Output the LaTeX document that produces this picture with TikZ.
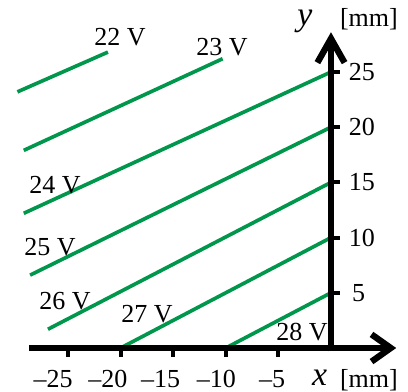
\documentclass[tikz,border=0pt]{standalone}
\usepackage{fontspec}
\setmainfont{Liberation Serif}
\usetikzlibrary{arrows.meta}
\definecolor{eqgreen}{RGB}{0,150,75}

\begin{document}
\begin{tikzpicture}[x=0.263cm,y=0.276cm,every node/.style={inner sep=0pt,outer sep=0pt,font=\fontsize{18.5}{20}\selectfont}]
	\tikzstyle{axis}=[line width=4.5pt]
	\tikzstyle{tick}=[line width=2.8pt]
	\tikzstyle{equi}=[line width=2.6pt,draw=eqgreen]
	\tikzstyle{axlabel}=[font=\fontsize{24}{24}\selectfont\itshape]
	\useasboundingbox (-31.46,-3.895) rectangle (7.32,31.52);
	
	\coordinate (O) at (0,0);																% Ursprung
	
	% Aequipotentiallinien
	\draw [equi] (-29.8,23.2) -- (-21.2,26.8);
	\draw [equi] (-29.2,17.9) -- (-10.3,26.2);
	\draw [equi] (-29.2,12.2) -- (0,25);
	\draw [equi] (-28.6,6.6) -- (0,20);
	\draw [equi] (-26.9,1.7) -- (0,15);
	\draw [equi] (-20,0) -- (0,10);
	\draw [equi] (-10,0) -- (0,5);
	
	\node (U22) at (-20.06,28.17) {22 V};
	\node (U23) at (-10.36,27.26) {23 V};
	\node (U24) at (-26.24,14.76) {24 V};
	\node (U25) at (-26.71,9.15) {25 V};
	\node (U26) at (-25.29,4.26) {26 V};
	\node (U27) at (-17.49,3.08) {27 V};
	\node (U28) at (-2.76,1.45) {28 V};
	
	% Achsen
	\coordinate (xstart) at (-28.7,0);
	\coordinate (xend) at (6.2,0);
	\coordinate (ystart) at (0,-0.3);
	\coordinate (yend) at (0,28.6);
	\draw [axis,-{Straight Barb[length=0.48cm,width=0.68cm]}] (xstart) -- (xend);
	\draw [axis,-{Straight Barb[length=0.6cm,width=0.68cm]}] (ystart) -- (yend);
	
	\draw [tick] (-25,0) -- ++(0,-0.82);
	\draw [tick] (-20,0) -- ++(0,-0.82);
	\draw [tick] (-15,0) -- ++(0,-0.82);
	\draw [tick] (-10,0) -- ++(0,-0.82);
	\draw [tick] (-5,0) -- ++(0,-0.82);
	\draw [tick] (0,5) -- ++(0.86,0);
	\draw [tick] (0,10) -- ++(0.86,0);
	\draw [tick] (0,15) -- ++(0.86,0);
	\draw [tick] (0,20) -- ++(0.86,0);
	\draw [tick] (0,25) -- ++(0.86,0);
	
	\node (xm25) [anchor=base] at (-26.4,-3.55) {--25};
	\node (xm20) [anchor=base] at (-21.2,-3.55) {--20};
	\node (xm15) [anchor=base] at (-16.2,-3.55) {--15};
	\node (xm10) [anchor=base] at (-10.9,-3.55) {--10};
	\node (xm5) [anchor=base] at (-5.6,-3.55) {--5};
	
	\node (y5) [anchor=west] at (2.0,5) {5};
	\node (y10) [anchor=west] at (1.71,10) {10};
	\node (y15) [anchor=west] at (1.71,15) {15};
	\node (y20) [anchor=west] at (1.71,20) {20};
	\node (y25) [anchor=west] at (1.71,25) {25};
	
	\node (xlab) [axlabel,anchor=base west] at (-1.8,-3.4) {x};
	\node (xunit) [anchor=base west] at (0.86,-3.55) {[mm]};
	\node (ylab) [axlabel,anchor=base west] at (-3.2,29.17) {y};
	\node (yunit) [anchor=base west] at (0.86,29.08) {[mm]};
\end{tikzpicture}
\end{document}
